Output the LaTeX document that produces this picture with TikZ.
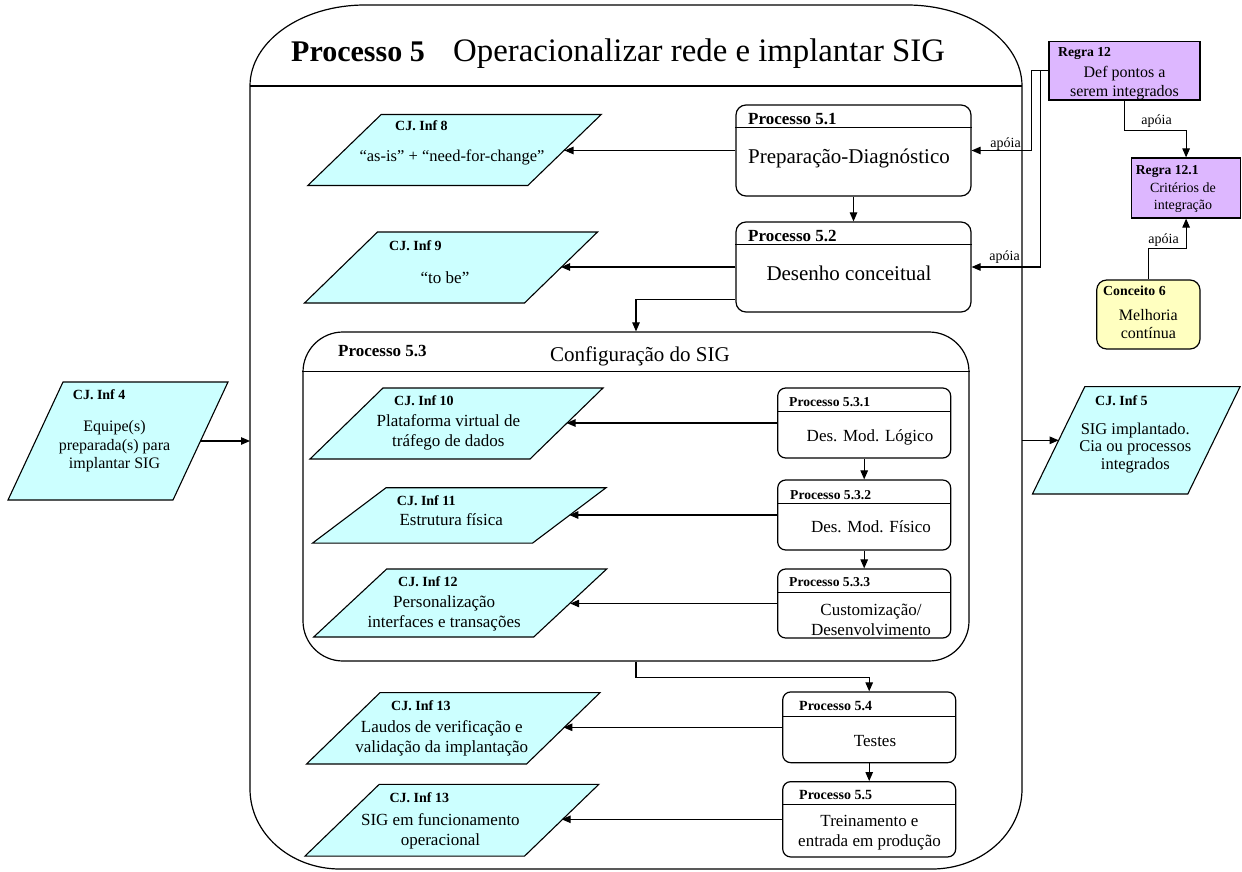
\documentclass[tikz,border=0pt]{standalone}
\usepackage{fontspec}
\setmainfont{Liberation Serif}
\usetikzlibrary{arrows.meta}

\definecolor{infofill}{RGB}{204,255,255}
\definecolor{rulefill}{RGB}{221,183,255}
\definecolor{conceptfill}{RGB}{255,255,192}

\newcommand{\fsz}[2]{\fontsize{#1}{#2}\selectfont}
\newcommand{\txtlines}[1]{\begin{tabular}[t]{@{}c@{}}#1\end{tabular}}
% parallelogram around an invisible frame node: its slanted sides pass through west/east
\newcommand{\slantframe}[2]{%
  \path[infobox] ([xshift=-#2pt]#1.south west) -- ([xshift=-#2pt]#1.south east)
    -- ([xshift=#2pt]#1.north east) -- ([xshift=#2pt]#1.north west) -- cycle;}
% header rule of a process box
\newcommand{\hdrline}[2]{%
  \draw[line width=1.1pt] ([yshift=-#2pt]#1.north west) -- ([yshift=-#2pt]#1.north east);}

\tikzset{
  slot/.style={inner sep=0pt, outer sep=0pt},
  arr/.style={line width=1.1pt, -{Triangle[length=9pt,width=7.5pt]}},
  link/.style={line width=1.1pt},
  infobox/.style={draw, fill=infofill, line width=1.1pt, line join=miter},
  procbox/.style={draw, fill=white, line width=1.2pt, rounded corners=#1, inner sep=0pt},
  procbox/.default=10pt,
  rulebox/.style={draw, fill=rulefill, line width=1.2pt, inner sep=0pt},
  conceptbox/.style={draw, fill=conceptfill, line width=1.2pt, rounded corners=10pt, inner sep=0pt},
  ttl/.style={anchor=base west, inner sep=0pt, font=\bfseries\fsz{#1}{#1}},
  txt/.style={anchor=base, inner sep=0pt, font=\fsz{#1}{#1}},
  ml/.style={anchor=base, inner sep=0pt, font=\fsz{#1}{20}},
  lbl/.style={anchor=base east, inner sep=0pt, font=\fsz{14}{14}},
}

\begin{document}
\begin{tikzpicture}[x=1pt,y=-1pt]
\useasboundingbox (0,0) rectangle (1242,872);

% ---------- outer frame: Processo 5
\node[slot, minimum width=772pt, minimum height=864pt] (p5) at (636,437) {};
\draw[line width=1.2pt] (250,86) .. controls (250,41.3) and (301.5,5) .. (365,5)
  -- (907,5) .. controls (970.5,5) and (1022,41.3) .. (1022,86)
  -- (1022,789) .. controls (1022,833.2) and (981.7,869) .. (932,869)
  -- (340,869) .. controls (290.3,869) and (250,833.2) .. (250,789) -- cycle;
\draw[line width=1.2pt] (250,86) -- (1022,86);
\node[ttl=30] (p5t) at (291,62) {Processo 5};
\node[txt=32.8, anchor=base west] (p5n) at (453,62) {Operacionalizar rede e implantar SIG};

% ---------- Processo 5.1 / 5.2
\node[procbox, minimum width=235pt, minimum height=91pt] (p51) at (853.5,150.5) {};
\hdrline{p51}{23.5}
\node[ttl=17] (p51t) at (748,124.3) {Processo 5.1};
\node[txt=21] (p51n) at (849,163.3) {Preparação-Diagnóstico};

\node[procbox, minimum width=235pt, minimum height=90pt] (p52) at (853.5,267) {};
\hdrline{p52}{23.5}
\node[ttl=17] (p52t) at (748,241.7) {Processo 5.2};
\node[txt=21] (p52n) at (849,280) {Desenho conceitual};

% ---------- Processo 5.3 container
\node[procbox=40pt, minimum width=666pt, minimum height=329pt] (p53) at (636,496.5) {};
\hdrline{p53}{40}
\node[ttl=17] (p53t) at (338,356) {Processo 5.3};
\node[txt=21] (p53n) at (640,361.7) {Configuração do SIG};

\node[procbox=8pt, minimum width=173pt, minimum height=70pt] (p531) at (864.2,423) {};
\hdrline{p531}{24}
\node[ttl=13.6] (p531t) at (789,406) {Processo 5.3.1};
\node[txt=17] (p531n) at (870,441.7) {Des. Mod. Lógico};

\node[procbox=8pt, minimum width=173pt, minimum height=70pt] (p532) at (864.2,515) {};
\hdrline{p532}{24}
\node[ttl=13.6] (p532t) at (790,499.3) {Processo 5.3.2};
\node[txt=17] (p532n) at (871,532.7) {Des. Mod. Físico};

\node[procbox=8pt, minimum width=173pt, minimum height=69pt] (p533) at (864.2,603.5) {};
\hdrline{p533}{23.7}
\node[ttl=13.6] (p533t) at (789,586.7) {Processo 5.3.3};
\node[ml=17] (p533n) at (871,615) {\txtlines{Customização/\\Desenvolvimento}};

% ---------- Processo 5.4 / 5.5
\node[procbox=8pt, minimum width=173pt, minimum height=70.7pt] (p54) at (869.2,727.3) {};
\hdrline{p54}{25}
\node[ttl=14] (p54t) at (799,710.7) {Processo 5.4};
\node[txt=17] (p54n) at (875,746) {Testes};

\node[procbox=8pt, minimum width=173pt, minimum height=75.3pt] (p55) at (869.2,819.3) {};
\hdrline{p55}{23.3}
\node[ttl=14] (p55t) at (799,799.3) {Processo 5.5};
\node[ml=17] (p55n) at (869.5,826) {\txtlines{Treinamento e\\entrada em produção}};

% ---------- information sets (parallelograms)
\node[slot, minimum width=220pt, minimum height=71pt] (inf8) at (454.5,150) {};
\slantframe{inf8}{36.7}
\node[ttl=14] (inf8t) at (395,130.7) {CJ. Inf 8};
\node[txt=16.5] (inf8n) at (452,161.7) {“as-is” + “need-for-change”};

\node[slot, minimum width=220pt, minimum height=71pt] (inf9) at (451,267.5) {};
\slantframe{inf9}{36.5}
\node[ttl=14] (inf9t) at (389,250) {CJ. Inf 9};
\node[txt=17] (inf9n) at (445,283.3) {“to be”};

\node[slot, minimum width=220pt, minimum height=71pt] (inf10) at (456.5,423.5) {};
\slantframe{inf10}{36.5}
\node[ttl=14] (inf10t) at (394,405) {CJ. Inf 10};
\node[ml=17] (inf10n) at (448.4,426.7) {\txtlines{Plataforma virtual de\\tráfego de dados}};

\node[slot, minimum width=220pt, minimum height=55.3pt] (inf11) at (459.3,515.4) {};
\slantframe{inf11}{36.7}
\node[ttl=14] (inf11t) at (396.7,505) {CJ. Inf 11};
\node[txt=17] (inf11n) at (451.2,525) {Estrutura física};

\node[slot, minimum width=220pt, minimum height=68pt] (inf12) at (460.2,603) {};
\slantframe{inf12}{36.5}
\node[ttl=14] (inf12t) at (398,586) {CJ. Inf 12};
\node[ml=17] (inf12n) at (444.2,607.3) {\txtlines{Personalização\\interfaces e transações}};

\node[slot, minimum width=220pt, minimum height=71.3pt] (inf13a) at (453.3,728.3) {};
\slantframe{inf13a}{36.7}
\node[ttl=14] (inf13at) at (391,710) {CJ. Inf 13};
\node[ml=17] (inf13an) at (441.8,732.7) {\txtlines{Laudos de verificação e\\validação da implantação}};

\node[slot, minimum width=219.6pt, minimum height=71.7pt] (inf13b) at (451.9,820.2) {};
\slantframe{inf13b}{37.1}
\node[ttl=14] (inf13bt) at (389.3,802.3) {CJ. Inf 13};
\node[ml=17] (inf13bn) at (440.4,825) {\txtlines{SIG em funcionamento\\operacional}};

\node[slot, minimum width=165pt, minimum height=118pt] (inf4) at (118,441) {};
\slantframe{inf4}{27.5}
\node[ttl=14] (inf4t) at (72.7,399.3) {CJ. Inf 4};
\node[anchor=base, inner sep=0pt, font=\fsz{16}{18.3}] (inf4n) at (114.5,431.7)
  {\txtlines{Equipe(s)\\preparada(s) para\\implantar SIG}};

\node[slot, minimum width=155.3pt, minimum height=107.3pt] (inf5) at (1136.3,440.3) {};
\slantframe{inf5}{26.15}
\node[ttl=14] (inf5t) at (1095,405.7) {CJ. Inf 5};
\node[anchor=base, inner sep=0pt, font=\fsz{16.5}{17.7}] (inf5n) at (1135.3,434)
  {\txtlines{SIG implantado.\\Cia ou processos\\integrados}};

% ---------- rules and concept
\node[rulebox, minimum width=151pt, minimum height=58.3pt] (r12) at (1124.5,70.85) {};
\node[ttl=13.7] (r12t) at (1058,56.7) {Regra 12};
\node[anchor=base, inner sep=0pt, font=\fsz{16}{19.4}] (r12n) at (1124.5,77.3)
  {\txtlines{Def pontos a\\serem integrados}};

\node[rulebox, minimum width=108.8pt, minimum height=60pt] (r121) at (1186.1,188) {};
\node[ttl=13.6] (r121t) at (1135.7,175) {Regra 12.1};
\node[anchor=base, inner sep=0pt, font=\fsz{14}{16.5}] (r121n) at (1183,192.7)
  {\txtlines{Critérios de\\integração}};

\node[conceptbox, minimum width=103.3pt, minimum height=69pt] (c6) at (1148.35,314.5) {};
\node[ttl=13.8] (c6t) at (1103,295) {Conceito 6};
\node[anchor=base, inner sep=0pt, font=\fsz{16}{18.3}] (c6n) at (1148.3,320)
  {\txtlines{Melhoria\\contínua}};

% ---------- flow between processes
\draw[arr] (p51.south) -- (p52.north);
\draw[arr] ([yshift=13pt]p52.south west) -| (p53.north);
\draw[arr] (p531.south) -- (p532.north);
\draw[arr] (p532.south) -- (p533.north);
\draw[arr] (p53.south) -- ++(0,16) -| (p54.north);
\draw[arr] (p54.south) -- (p55.north);

% ---------- outputs of each process
\draw[arr] (p51.west) -- (p51.west -| inf8.east);
\draw[arr] (p52.west) -- (p52.west -| inf9.east);
\draw[arr] (p531.west) -- (p531.west -| inf10.east);
\draw[arr] (p532.west) -- (p532.west -| inf11.east);
\draw[arr] (p533.west) -- (p533.west -| inf12.east);
\draw[arr] (p54.west) -- (p54.west -| inf13a.east);
\draw[arr] (p55.west) -- (p55.west -| inf13b.east);

% ---------- input and output of Processo 5
\draw[arr] (inf4.east) -- (inf4.east -| p5.west);
\draw[arr] (p5.east |- inf5.west) -- (inf5.west);

% ---------- supporting rules
\draw[arr] (r12.west) -- ++(-17,0) |- (p51.east);
\draw[arr] (r12.west) -- ++(-8,0) |- (p52.east);
\node[lbl] (s1) at (1021,147) {apóia};
\node[lbl] (s2) at (1020,260) {apóia};
\draw[arr] (r12.south) -- ++(0,30) -| (r121.north);
\node[lbl] (s3) at (1172,125) {apóia};
\draw[arr] (c6.north) -- ++(0,-31) -| (r121.south);
\node[lbl] (s4) at (1179,243) {apóia};
\end{tikzpicture}
\end{document}
